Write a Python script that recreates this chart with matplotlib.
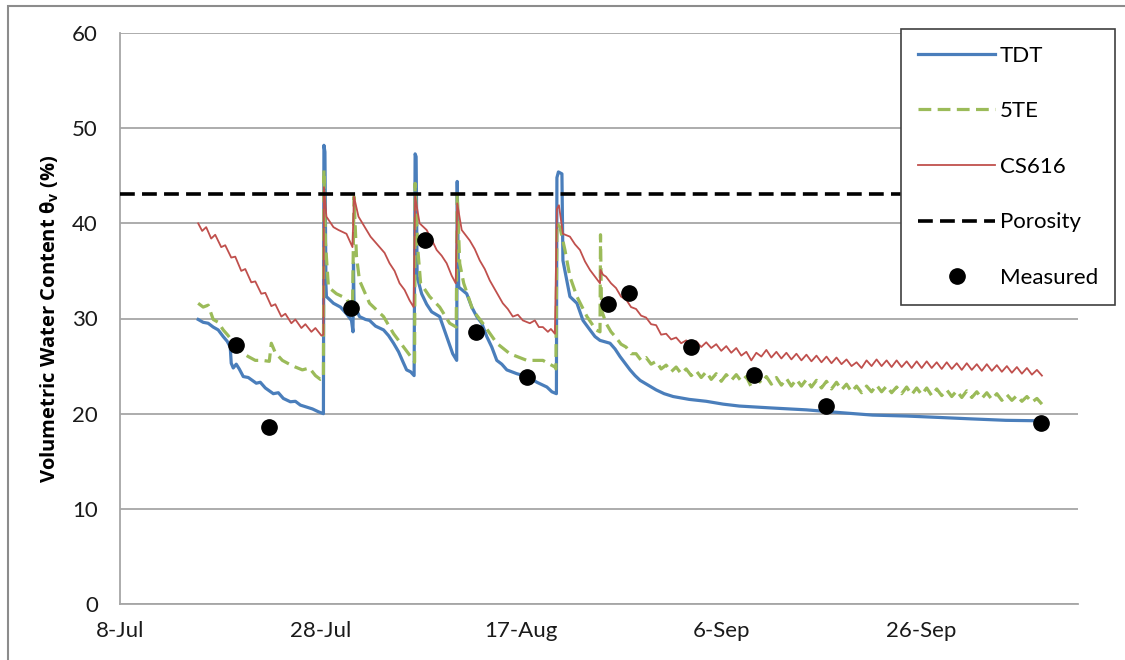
import datetime as dt
import numpy as np
import matplotlib
matplotlib.use('Agg')
import matplotlib.pyplot as plt
import matplotlib.dates as mdates
from matplotlib.lines import Line2D
from matplotlib.patches import Rectangle

plt.rcParams.update({
    'font.family': ['Lato', 'DejaVu Sans'],
    'font.size': 16,
    'mathtext.fontset': 'custom',
    'mathtext.rm': 'Open Sans',
    'mathtext.bf': 'Open Sans:bold',
})

COLORS = {
    'tdt': '#4A7EBB',
    '5te': '#9BBB59',
    'cs616': '#C0504D',
    'grid': '#A6A6A6',
    'text': '#1A1A1A',
}

START = dt.datetime(2012, 7, 8)
TICK_DAYS = [0, 20, 40, 60, 80]
POROSITY = 43.1

# days since 8-Jul, values in %
tdt_days = [7.8, 8.3, 8.8, 9.3, 9.8, 10.3, 10.7, 11.0, 11.1, 11.3, 11.6, 11.9, 12.3, 12.8,
            13.6, 14.0, 14.5, 15.3, 15.8, 16.3, 17.0, 17.5, 18.0, 18.6, 19.2, 19.8, 20.3,
            20.35, 20.45, 20.55, 20.6, 21.3, 22.0, 22.6, 23.1, 23.25, 23.3, 23.35, 23.9, 24.5,
            24.9, 25.5, 26.3, 26.8, 27.3, 27.8, 28.3, 28.6, 29.0, 29.35,
            29.45, 29.55, 29.65, 30.1, 30.6, 31.1, 31.9, 32.6, 33.2, 33.6,
            33.65, 33.75, 33.8, 34.6, 35.1, 35.6, 36.1, 36.6, 37.1, 37.6, 38.1, 38.6, 39.6,
            40.6, 41.6, 42.6, 43.1, 43.55,
            43.6, 43.75, 44.1, 44.2, 44.9, 45.6, 46.2, 46.9, 47.4, 47.9, 48.9, 49.4, 49.9,
            50.4, 50.9, 51.4, 51.9, 52.7, 53.5, 54.3, 55.2, 56.8, 58.5, 60.2, 61.8, 65.0,
            68.5, 72.0, 75.1, 78.5, 81.8, 85.0, 88.4, 91.9]
tdt_vals = [29.9, 29.6, 29.5, 29.1, 28.8, 28.1, 27.6, 27.0, 25.3, 24.8, 25.2, 24.7, 23.9, 23.8,
            23.2, 23.3, 22.7, 22.1, 22.2, 21.6, 21.25, 21.3, 20.9, 20.7, 20.5, 20.2, 20.0,
            48.2, 47.5, 33.5, 32.3, 31.6, 31.2, 30.5, 29.8, 28.6, 35.8, 31.5, 30.2, 29.9,
            29.8, 29.2, 28.8, 28.2, 27.4, 26.5, 25.3, 24.6, 24.4, 24.0,
            47.3, 47.0, 34.4, 32.6, 31.5, 30.7, 30.2, 28.1, 26.3, 25.6,
            44.4, 36.0, 33.3, 32.6, 31.2, 30.2, 29.5, 28.1, 27.0, 25.6, 25.2, 24.6, 24.2,
            23.9, 23.3, 22.8, 22.3, 22.1,
            44.8, 45.4, 45.2, 36.1, 32.3, 31.6, 29.8, 28.8, 28.1, 27.7, 27.4, 26.8, 26.0,
            25.3, 24.6, 24.0, 23.5, 23.0, 22.5, 22.1, 21.8, 21.5, 21.3, 21.0, 20.8, 20.6,
            20.4, 20.1, 19.85, 19.75, 19.6, 19.45, 19.3, 19.25]

fte_days = [7.8, 8.3, 8.8, 9.3, 9.8, 10.3, 10.8, 11.5, 12.2, 12.8, 13.5, 14.2, 14.9, 15.1,
            15.5, 16.2, 16.9, 17.5, 18.2, 18.9, 19.5, 20.0, 20.3,
            20.35, 20.5, 20.8, 21.6, 22.6, 23.2, 23.35, 23.6, 23.9, 24.9, 26.3, 27.3, 28.3,
            29.3, 29.4,
            29.45, 29.7, 30.0, 30.9, 31.9, 32.9, 33.55,
            33.65, 33.9, 34.3, 35.2, 36.2, 37.6, 38.9, 40.6, 42.2, 43.4, 43.5,
            43.6, 43.9, 44.4, 44.9, 45.6, 46.6, 47.5, 47.9, 47.95, 48.05]
fte_vals = [31.6, 31.2, 31.4, 29.9, 29.6, 28.8, 28.2, 27.2, 26.4, 26.0, 25.6, 25.6, 25.5, 27.4,
            26.4, 25.6, 25.2, 24.9, 24.6, 24.8, 24.0, 23.6, 23.7,
            45.6, 38.0, 33.3, 32.6, 32.1, 30.9, 42.8, 36.5, 34.0, 31.6, 30.2, 28.4, 27.0,
            25.6, 25.4,
            44.2, 37.5, 33.7, 32.3, 31.2, 29.5, 29.1,
            43.1, 35.8, 33.7, 30.9, 29.5, 27.4, 26.3, 25.6, 25.6, 24.9, 24.7,
            40.0, 39.6, 37.2, 34.4, 32.3, 30.2, 28.8, 28.6, 38.8, 30.9]

cs_days = [7.8, 8.2, 8.6, 9.1, 9.5, 10.1, 10.5, 11.1, 11.5, 12.1, 12.5, 13.1, 13.5, 14.1,
           14.5, 15.1, 15.5, 16.1, 16.5, 17.1, 17.5, 18.1, 18.5, 19.1, 19.5, 20.1, 20.3,
           20.35, 20.6, 21.3, 21.8, 22.6, 23.2, 23.35, 23.8, 24.6, 25.0, 25.9, 26.4, 26.9,
           27.4, 27.9, 28.4, 28.9, 29.3,
           29.45, 29.9, 30.6, 31.1, 31.6, 32.1, 32.6, 33.1, 33.5,
           33.65, 34.1, 34.9, 35.4, 35.9, 36.4, 36.9, 37.5, 38.2, 38.7, 39.2, 39.7, 40.2,
           40.9, 41.4, 41.8, 42.2, 42.7, 43.0, 43.4,
           43.6, 43.8, 44.2, 44.9, 45.4, 45.9, 46.4, 46.9, 47.4, 47.9, 47.95, 48.2]
cs_vals = [40.0, 39.2, 39.6, 38.4, 38.8, 37.5, 37.7, 36.4, 36.5, 35.0, 35.2, 33.8, 33.9, 32.6,
           32.7, 31.3, 31.5, 30.2, 30.5, 29.5, 29.9, 29.0, 29.4, 28.6, 29.0, 28.2, 28.3,
           43.8, 40.7, 39.6, 39.3, 38.9, 37.5, 42.8, 40.7, 39.3, 38.6, 37.5, 36.9, 35.8,
           35.0, 33.7, 33.0, 31.9, 31.2,
           42.8, 40.0, 39.3, 38.3, 37.2, 36.6, 35.8, 34.5, 33.7,
           42.1, 39.3, 38.2, 37.3, 36.1, 35.2, 34.0, 32.9, 31.6, 31.0, 30.2, 30.4, 29.8,
           29.5, 29.8, 29.1, 29.1, 28.6, 28.9, 28.4,
           41.5, 41.9, 38.9, 38.6, 37.8, 37.2, 36.0, 35.1, 34.4, 33.7, 35.1, 34.6]

# half-day readings, 48.5 .. 92.0 days (daily cycle)
late_days = np.arange(48.5, 92.01, 0.5)
fte_late = [29.5, 28.6, 28.0, 27.3, 27.0, 26.3, 26.3, 25.6, 25.9, 25.2, 25.5, 24.7, 25.1,
            24.4, 24.9, 24.2, 24.7, 24.0, 24.5, 23.8, 24.4, 23.6, 24.2, 23.4, 24.1, 23.5,
            24.1, 23.4, 23.9, 22.8, 23.8, 23.2, 23.9, 23.1, 23.8, 23.0, 23.7, 22.9, 23.6,
            22.9, 23.6, 22.8, 23.5, 22.7, 23.4, 22.6, 23.3, 22.5, 23.1, 22.3, 22.9, 22.2,
            22.9, 22.3, 23.0, 22.3, 22.9, 22.2, 22.8, 22.1, 22.8, 22.0, 22.7, 22.0, 22.7,
            21.9, 22.6, 21.9, 22.5, 21.8, 22.4, 21.7, 22.4, 21.7, 22.3, 21.6, 22.2, 21.5,
            22.1, 21.4, 22.0, 21.4, 21.9, 21.3, 21.8, 21.2, 21.6, 21.0]
cs_late = [34.4, 33.7, 33.2, 32.3, 32.0, 31.2, 31.0, 30.3, 30.1, 29.4, 29.3, 28.3, 28.4,
           27.8, 28.0, 27.4, 27.7, 27.3, 27.6, 27.0, 27.5, 26.9, 27.3, 26.6, 27.1, 26.4,
           26.9, 26.1, 26.5, 25.6, 26.4, 26.0, 26.7, 25.9, 26.5, 25.8, 26.4, 25.7, 26.3,
           25.6, 26.2, 25.5, 26.1, 25.4, 26.0, 25.3, 25.9, 25.2, 25.7, 25.0, 25.4, 24.8,
           25.6, 25.0, 25.7, 25.0, 25.6, 24.9, 25.6, 24.9, 25.5, 24.8, 25.5, 24.8, 25.5,
           24.8, 25.4, 24.7, 25.4, 24.7, 25.3, 24.6, 25.3, 24.6, 25.2, 24.5, 25.2, 24.5,
           25.1, 24.4, 25.0, 24.3, 24.9, 24.2, 24.8, 24.1, 24.6, 24.0]

meas_days = [11.6, 14.9, 23.1, 30.4, 35.5, 40.6, 48.7, 50.8, 57.0, 63.3, 70.5, 91.9]
meas_vals = [27.2, 18.6, 31.1, 38.2, 28.6, 23.9, 31.5, 32.7, 27.0, 24.05, 20.8, 19.05]


def to_dates(days):
    return mdates.date2num(START) + np.asarray(days, dtype=float)


fig = plt.figure(figsize=(11.25, 6.6), dpi=100)
ax = fig.add_axes([120 / 1125, 1 - 604 / 660, (1078 - 120) / 1125, (604 - 33) / 660])

ax.plot(to_dates(tdt_days), tdt_vals, color=COLORS['tdt'], lw=2.3, zorder=3)
ax.plot(to_dates(list(fte_days) + list(late_days)), list(fte_vals) + fte_late,
        color=COLORS['5te'], lw=2.3, dashes=(4.0, 2.0), zorder=4)
ax.plot(to_dates(list(cs_days) + list(late_days)), list(cs_vals) + cs_late,
        color=COLORS['cs616'], lw=1.3, zorder=5)
ax.axhline(POROSITY, color='black', lw=2.6, dashes=(4.1, 2.0), zorder=6)
ax.plot(to_dates(meas_days), meas_vals, 'o', color='black', ms=11, zorder=7)

ax.set_ylim(0, 60)
ax.set_yticks(range(0, 61, 10))
ax.set_xlim(to_dates([0])[0], to_dates([95.6])[0])
ax.set_xticks(to_dates(TICK_DAYS))
ax.xaxis.set_major_formatter(mdates.DateFormatter('%-d-%b'))
ax.grid(axis='y', color=COLORS['grid'], lw=1.3)
ax.set_axisbelow(True)
for side in ['top', 'right']:
    ax.spines[side].set_visible(False)
for side in ['left', 'bottom']:
    ax.spines[side].set_color(COLORS['grid'])
    ax.spines[side].set_linewidth(1.3)
ax.tick_params(length=0, labelsize=16, colors=COLORS['text'])
ax.tick_params(axis='x', pad=12)
ax.tick_params(axis='y', pad=16)

ax.set_ylabel(r'Volumetric Water Content θ$_{\mathbf{v}}$ (%)', fontsize=14.5,
              family=['Open Sans', 'DejaVu Sans'], fontweight='bold', color='black',
              labelpad=8)

handles = [
    Line2D([], [], color=COLORS['tdt'], lw=2.3),
    Line2D([], [], color=COLORS['5te'], lw=2.3, dashes=(4.0, 2.0)),
    Line2D([], [], color=COLORS['cs616'], lw=1.3),
    Line2D([], [], color='black', lw=2.6, dashes=(4.1, 2.0)),
    Line2D([], [], color='black', marker='o', ms=11, lw=0),
]
leg = ax.legend(handles, ['TDT', '5TE', 'CS616', 'Porosity', 'Measured'],
                loc='upper left', bbox_to_anchor=(901 / 1125, 1 - 29 / 660),
                bbox_transform=fig.transFigure, borderaxespad=0, fontsize=16,
                frameon=True, fancybox=False, edgecolor='#404040', framealpha=1,
                handlelength=3.5, labelspacing=1.6, borderpad=0.75, handletextpad=0.2)
leg.get_frame().set_linewidth(1.2)
leg.set_zorder(10)

fig.patches.append(Rectangle((8 / 1125, -0.05), 1.2, 1 - 6 / 660 + 0.05,
                             transform=fig.transFigure, fill=False,
                             edgecolor='#8C8C8C', lw=1.5))

fig.savefig('out.png', dpi=100, facecolor='white')
